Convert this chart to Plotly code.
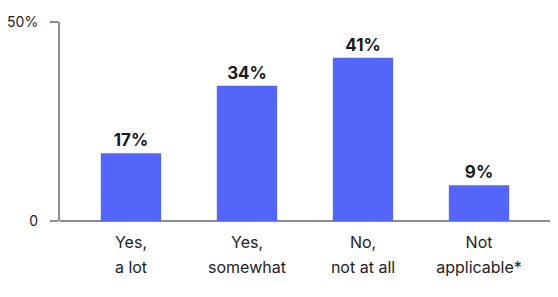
import plotly.graph_objects as go

categories = ["Yes,<br>a lot", "Yes,<br>somewhat", "No,<br>not at all", "Not<br>applicable*"]
values = [17, 34, 41, 9]
labels = ["17%", "34%", "41%", "9%"]
y_tickvals = [0, 50]
y_ticktext = ["0", "50%"]

tick_text = ["<span style='font-size:16px'>" + c.replace("<br>", "</span><br><span style='font-size:16px'>") + "</span>" for c in categories]

fig = go.Figure(go.Bar(
    x=list(range(len(categories))), y=values, text=labels, textposition="outside",
    textfont=dict(family="Inter", size=17, color="#1a1a1a", weight="bold"),
    marker=dict(color="#5465FA", line=dict(width=0)), width=0.52, cliponaxis=False,
))
fig.update_layout(
    width=558, height=297, margin=dict(l=60, r=8, t=22, b=76, autoexpand=False),
    plot_bgcolor="white", paper_bgcolor="white", showlegend=False,
    font=dict(family="Inter", color="#222"),
)
fig.update_xaxes(range=[-0.612, 3.612], tickvals=list(range(len(categories))), ticktext=tick_text,
                 tickfont=dict(size=19, color="#222"), showgrid=False, zeroline=False,
                 showline=False, ticks="", automargin=False, ticklabelstandoff=7)
fig.update_yaxes(range=[0, 50], tickvals=y_tickvals, ticktext=y_ticktext, tickfont=dict(size=14, color="#222"),
                 showgrid=False, showline=True, linecolor="#8a8a94", linewidth=2, ticks="outside",
                 ticklen=8, tickcolor="#8a8a94", tickwidth=1.5, zeroline=True, zerolinecolor="#8a8a94",
                 zerolinewidth=2, ticklabelstandoff=9, automargin=False)
fig.write_html("out.html")
